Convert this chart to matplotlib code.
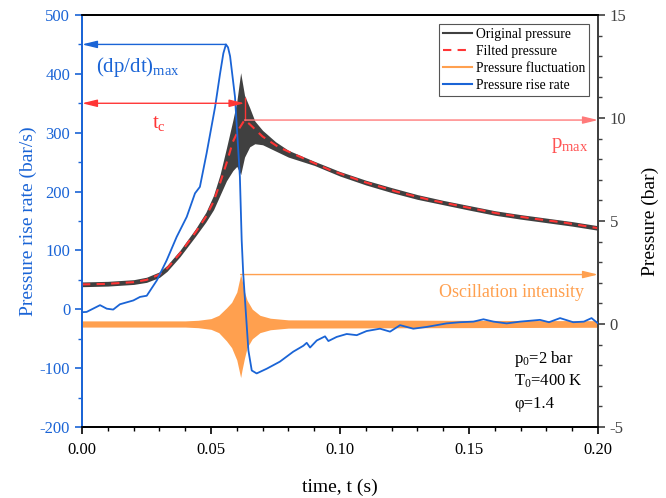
import numpy as np
import matplotlib
matplotlib.use("Agg")
import matplotlib.pyplot as plt
from matplotlib.lines import Line2D
from matplotlib.ticker import MultipleLocator, FormatStrFormatter

plt.rcParams['font.family'] = ['Liberation Serif', 'DejaVu Serif']
plt.rcParams['mathtext.fontset'] = 'custom'
plt.rcParams['mathtext.rm'] = 'Liberation Serif'
plt.rcParams['mathtext.it'] = 'Liberation Serif:italic'
plt.rcParams['axes.unicode_minus'] = False

# ---------------- data ----------------
# Pressure rise rate (bar/s), left axis
rr_t = [0, 0.0018, 0.007, 0.0096, 0.0121, 0.0147, 0.0199, 0.0225, 0.0251, 0.029,
        0.0328, 0.0367, 0.0406, 0.0438, 0.0457, 0.0483, 0.0516, 0.0535, 0.0548, 0.0558,
        0.0566, 0.0574, 0.0593, 0.0612, 0.0619, 0.0625, 0.0645, 0.0658, 0.0677, 0.0716,
        0.0767, 0.0819, 0.0858, 0.0871, 0.0884, 0.091, 0.0942, 0.0955, 0.0987, 0.1026,
        0.1065, 0.1103, 0.1155, 0.1194, 0.1233, 0.1284, 0.1336, 0.1413, 0.1465, 0.1517,
        0.1556, 0.1595, 0.1646, 0.1698, 0.1775, 0.181, 0.1853, 0.1904, 0.1945, 0.1975, 0.2]
rr_v = [-5, -4.5, 7, 1, -0.5, 8.5, 15, 21, 23, 49,
        83, 123, 157, 197, 208, 265, 344, 400, 435, 450,
        445, 430, 361, 225, 117, 60, -70, -104, -109, -101,
        -89, -72, -62, -57, -65, -53, -46, -54, -47, -42,
        -44, -37, -33, -38, -27, -33, -30, -24, -22, -21,
        -17, -21, -24, -21, -18, -22, -15, -22, -21, -15, -24]

# Filtered pressure (bar), right axis
fp_t = [0, 0.010, 0.020, 0.025, 0.030, 0.033, 0.038, 0.044, 0.048, 0.051, 0.0535,
        0.056, 0.0585, 0.061, 0.063, 0.065, 0.070, 0.076, 0.083, 0.096, 0.109, 0.122,
        0.135, 0.148, 0.161, 0.174, 0.187, 0.200]
fp_v = [1.92, 1.95, 2.03, 2.14, 2.40, 2.70, 3.43, 4.45, 5.20, 5.95, 6.83,
        7.80, 8.85, 9.50, 9.90, 9.70, 9.10, 8.60, 8.20, 7.48, 6.91, 6.42,
        6.02, 5.69, 5.37, 5.13, 4.92, 4.65]

# Original (raw) pressure, upper / lower envelope of the noisy trace (bar)
op_t = [0, 0.010, 0.020, 0.025, 0.030, 0.033, 0.038, 0.044, 0.048, 0.051, 0.0535,
        0.056, 0.0585, 0.060, 0.0615, 0.063, 0.065, 0.067, 0.070, 0.075, 0.080, 0.090,
        0.100, 0.110, 0.120, 0.130, 0.140, 0.150, 0.160, 0.170, 0.180, 0.190, 0.200]
op_hi = [2.04, 2.07, 2.15, 2.27, 2.53, 2.85, 3.58, 4.62, 5.42, 6.25, 7.25,
         8.55, 9.90, 10.8, 12.2, 11.1, 10.5, 9.85, 9.40, 8.85, 8.43, 7.90,
         7.40, 6.98, 6.62, 6.28, 6.00, 5.75, 5.50, 5.31, 5.14, 4.97, 4.77]
op_lo = [1.81, 1.84, 1.92, 2.02, 2.26, 2.56, 3.27, 4.26, 4.95, 5.55, 6.25,
         6.95, 7.45, 7.65, 7.25, 8.10, 8.60, 8.75, 8.70, 8.40, 8.10, 7.70,
         7.18, 6.75, 6.38, 6.05, 5.79, 5.53, 5.28, 5.09, 4.92, 4.75, 4.55]

# Pressure fluctuation, upper / lower envelope (bar)
fl_t = [0, 0.040, 0.045, 0.050, 0.053, 0.056, 0.058, 0.060, 0.0615, 0.062, 0.063,
        0.064, 0.066, 0.069, 0.073, 0.080, 0.200]
fl_hi = [0.15, 0.15, 0.18, 0.26, 0.42, 0.78, 1.05, 1.55, 2.40, 2.15, 1.55,
         1.15, 0.72, 0.42, 0.28, 0.20, 0.16]
fl_lo = [-0.15, -0.15, -0.18, -0.26, -0.42, -0.82, -1.15, -1.75, -2.60, -2.25, -1.65,
         -1.15, -0.72, -0.42, -0.28, -0.20, -0.16]

x_ticks = [0.00, 0.05, 0.10, 0.15, 0.20]
left_ticks = [-200, -100, 0, 100, 200, 300, 400, 500]
right_ticks = [-5, 0, 5, 10, 15]

BLUE = '#1a64d6'
ORANGE = '#ffa04f'
DARK = '#404040'
RED = '#ff3535'
LRED = '#ff7a7a'

fig = plt.figure(figsize=(6.66, 4.98), dpi=100)
ax = fig.add_axes([0.1231, 0.1426, 0.7748, 0.8273])
ax2 = ax.twinx()
ax.set_zorder(ax2.get_zorder() + 1)
ax.patch.set_visible(False)

# left axis: pressure rise rate
ax.plot(rr_t, rr_v, color=BLUE, lw=1.3, zorder=3)
ax.set_xlim(0, 0.20)
ax.set_ylim(-200, 500)
ax.set_xticks(x_ticks)
ax.set_yticks(left_ticks)
ax.xaxis.set_minor_locator(MultipleLocator(0.01))
ax.yaxis.set_minor_locator(MultipleLocator(50))
ax.xaxis.set_major_formatter(FormatStrFormatter('%.2f'))

# right axis: pressures
ax2.fill_between(fl_t, fl_lo, fl_hi, color=ORANGE, lw=0, zorder=2)
ax2.fill_between(op_t, op_lo, op_hi, color=DARK, lw=0, zorder=3)
ax2.plot(fp_t, fp_v, color=RED, lw=1.5, ls=(0, (4, 3)), zorder=4)
ax2.set_ylim(-5, 15)
ax2.set_yticks(right_ticks)
ax2.yaxis.set_minor_locator(MultipleLocator(1))

# styling
for a in (ax, ax2):
    for s in a.spines.values():
        s.set_linewidth(1.3)
ax.spines['left'].set_color(BLUE)
ax2.spines['left'].set_color(BLUE)
ax.spines['right'].set_color(DARK)
ax2.spines['right'].set_color(DARK)
ax.tick_params(axis='x', which='major', direction='out', length=5, width=1.2,
               labelsize=12, pad=6)
ax.tick_params(axis='x', which='minor', direction='out', length=3, width=1.0)
ax.tick_params(axis='y', which='major', direction='out', length=5, width=1.2,
               colors=BLUE, labelsize=12)
ax.tick_params(axis='y', which='minor', direction='out', length=3, width=1.0, colors=BLUE)
ax2.tick_params(axis='y', which='major', direction='out', length=5, width=1.2,
                colors=DARK, labelsize=12)
ax2.tick_params(axis='y', which='minor', direction='out', length=3, width=1.0, colors=DARK)

ax.set_xlabel('time, t (s)', fontsize=14, labelpad=15)
ax.set_ylabel('Pressure rise rate (bar/s)', fontsize=14, color=BLUE, labelpad=2)
ax2.set_ylabel('Pressure (bar)', fontsize=14, color='black', labelpad=11)

# annotations derived from data
i_pk = int(np.argmax(rr_v))
t_pk, v_pk = rr_t[i_pk], rr_v[i_pk]
ax.annotate('', xy=(0, v_pk), xytext=(t_pk, v_pk),
            arrowprops=dict(arrowstyle='-|>,head_length=0.9,head_width=0.22',
                            color=BLUE, lw=1.0, shrinkA=0, shrinkB=0), zorder=5)
ax.text(0.0055, 412, r'(dp/dt)$_{\mathrm{max}}$', color=BLUE, fontsize=15,
        ha='left', va='center')

j_pk = int(np.argmax(fp_v))
t_c, p_max = fp_t[j_pk], fp_v[j_pk]
ax.annotate('', xy=(0, 350), xytext=(t_c, 350),
            arrowprops=dict(arrowstyle='<|-|>,head_length=0.9,head_width=0.22',
                            color=RED, lw=1.0, shrinkA=0, shrinkB=0), zorder=5)
ax.text(0.030, 315, r't$_{\mathrm{c}}$', color=RED, fontsize=15, ha='center', va='center')
ax2.plot([t_c, t_c], [p_max, p_max + 1.05], color=RED, lw=1.0, zorder=5)
ax2.annotate('', xy=(0.20, p_max), xytext=(t_c, p_max),
             arrowprops=dict(arrowstyle='-|>,head_length=0.9,head_width=0.22',
                             color=LRED, lw=1.0, shrinkA=0, shrinkB=0), zorder=5)
ax2.text(0.1965, 8.65, r'p$_{\mathrm{max}}$', color=RED, fontsize=15,
         ha='right', va='center', alpha=0.85)

k_pk = int(np.argmax(fl_hi))
t_o, o_max = fl_t[k_pk], fl_hi[k_pk]
ax2.annotate('', xy=(0.20, o_max), xytext=(t_o, o_max),
             arrowprops=dict(arrowstyle='-|>,head_length=0.9,head_width=0.22',
                             color=ORANGE, lw=1.0, shrinkA=0, shrinkB=0), zorder=5)
ax2.text(0.1945, 1.55, 'Oscillation intensity', color=ORANGE, fontsize=13,
         ha='right', va='center')

ax2.text(0.1675, -1.7, r'p$_{0}$=2 bar', fontsize=12, ha='left', va='center')
ax2.text(0.1675, -2.78, r'T$_{0}$=400 K', fontsize=12, ha='left', va='center')
ax2.text(0.1675, -3.9, 'φ=1.4', fontsize=12, ha='left', va='center')

handles = [Line2D([], [], color=DARK, lw=1.5),
           Line2D([], [], color=RED, lw=1.5, ls=(0, (4, 3))),
           Line2D([], [], color=ORANGE, lw=1.5),
           Line2D([], [], color=BLUE, lw=1.5)]
labels = ['Original pressure', 'Filted pressure', 'Pressure fluctuation',
          'Pressure rise rate']
leg = ax.legend(handles, labels, loc='upper right', bbox_to_anchor=(0.983, 0.979),
                borderaxespad=0, fontsize=9.8, frameon=True, fancybox=False,
                edgecolor='#555555', framealpha=1, handlelength=2.1,
                handletextpad=0.3, labelspacing=0.3, borderpad=0.3)
leg.get_frame().set_linewidth(0.8)

fig.savefig('out.png', dpi=100)
